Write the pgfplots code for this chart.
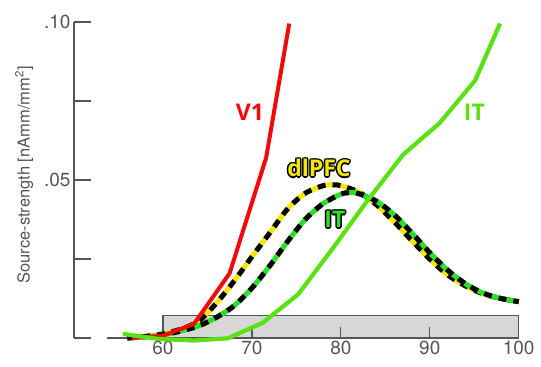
\documentclass[border=0pt]{standalone}
\usepackage{pgfplots}
\pgfplotsset{compat=1.18}
\usepackage{fontspec}
\setmainfont{TeX Gyre Heros}
\newfontfamily\labfont{Open Sans}
\definecolor{axgray}{RGB}{85,85,85}
\definecolor{vred}{RGB}{240,10,10}
\definecolor{itlight}{RGB}{90,225,20}
\definecolor{itgreen}{RGB}{40,225,40}
\definecolor{pfcyel}{RGB}{245,230,0}
\definecolor{boxgray}{RGB}{215,215,215}
\newcommand{\outlined}[5]{%
\node[text=black,font=#5] at (axis cs:#1,#2) [xshift=1.5bp]{#4};
\node[text=black,font=#5] at (axis cs:#1,#2) [xshift=-1.5bp]{#4};
\node[text=black,font=#5] at (axis cs:#1,#2) [yshift=1.5bp]{#4};
\node[text=black,font=#5] at (axis cs:#1,#2) [yshift=-1.5bp]{#4};
\node[text=black,font=#5] at (axis cs:#1,#2) [xshift=1.05bp,yshift=1.05bp]{#4};
\node[text=black,font=#5] at (axis cs:#1,#2) [xshift=1.05bp,yshift=-1.05bp]{#4};
\node[text=black,font=#5] at (axis cs:#1,#2) [xshift=-1.05bp,yshift=1.05bp]{#4};
\node[text=black,font=#5] at (axis cs:#1,#2) [xshift=-1.05bp,yshift=-1.05bp]{#4};
\node[text=#3,font=#5] at (axis cs:#1,#2) {#4};
}
\pgfplotstableread{
x y
56 0.000
58 0.0005
60 0.0013
62 0.0028
64 0.0053
66 0.0110
68 0.0180
70 0.0257
72 0.0332
74 0.0408
76 0.0458
78 0.0482
79 0.0485
80 0.0482
82 0.0462
84 0.0422
86 0.0368
88 0.0308
90 0.0250
92 0.0200
94 0.0165
96 0.0140
98 0.0125
100 0.0115
}\pfctab
\pgfplotstableread{
x y
56 0.000
58 0.0004
60 0.0010
62 0.0022
64 0.0038
66 0.0065
68 0.0102
70 0.0158
72 0.0228
74 0.0305
76 0.0375
78 0.0425
80 0.0455
81 0.0460
82 0.0457
84 0.0433
86 0.0390
88 0.0332
90 0.0270
92 0.0215
94 0.0172
96 0.0142
98 0.0125
100 0.0115
}\ittab
\begin{document}
\begin{tikzpicture}
\path[use as bounding box] (-74bp,-29bp) rectangle (467bp,338bp);
\begin{axis}[
  at={(0,0)}, anchor=south west,
  scale only axis, width=444.7bp, height=316bp,
  xmin=50, xmax=100, ymin=0, ymax=0.1,
  clip=false,
  axis line style={draw=none},
  xtick={60,70,80,90,100}, xticklabels={60,70,80,90,100},
  ytick={0,0.025,0.05,0.075,0.1}, yticklabels={,,.05,,.10},
  xtick pos=bottom, ytick pos=left,
  tick align=inside,
  major tick length=17bp,
  ytick style={draw=axgray, line width=1.5bp},
  xtick style={draw=none},
  ticklabel style={font=\fontsize{19bp}{19bp}\selectfont, text=axgray},
  every axis y label/.style={at={(axis description cs:-0.112,0.516)}, rotate=90, anchor=center},
  ylabel={Source-strength [nAmm/mm\textsuperscript{2}]},
  ylabel style={font=\fontsize{16.5bp}{16.5bp}\selectfont, text=axgray},
]
\draw[fill=boxgray, draw=axgray, line width=1.2bp] (axis cs:60,0) rectangle (axis cs:100,0.007);
\draw[axgray, line width=1.5bp] (axis cs:50,0) -- (axis cs:50,0.1);
\draw[axgray, line width=1.5bp] (axis cs:53.7,0) -- (axis cs:100,0);
\draw[axgray, line width=1.3bp] (axis cs:70,0) -- (axis cs:70,0.0035);
\draw[axgray, line width=1.3bp] (axis cs:80,0) -- (axis cs:80,0.0035);
\draw[axgray, line width=1.3bp] (axis cs:90,0) -- (axis cs:90,0.0035);

% dlPFC
\addplot[pfcyel, line width=5bp, smooth, line join=round] table {\pfctab};
\addplot[black, line width=5bp, smooth, dash pattern=on 8bp off 7bp] table {\pfctab};
% IT (dashed)
\addplot[itgreen, line width=5bp, smooth, line join=round] table {\ittab};
\addplot[black, line width=5bp, smooth, dash pattern=on 8bp off 7bp] table {\ittab};
% V1
\addplot[vred, line width=4bp, line join=round] coordinates {
(56.5,0.0)(60,0.0007)(63.5,0.0045)(67.5,0.0205)(71.6,0.057)(74.2,0.0995)};
% IT (solid)
\addplot[itlight, line width=4.2bp, line join=round] coordinates {
(55.5,0.0013)(59.5,-0.0003)(63.5,-0.0008)(67.3,-0.0001)(71.2,0.0048)(75.2,0.0138)
(79.1,0.0284)(83.0,0.0435)(87.0,0.058)(91.1,0.068)(95.1,0.0815)(97.9,0.0995)};

\node[text=vred, font=\labfont\bfseries\fontsize{23bp}{23bp}\selectfont] at (axis cs:69.78,0.0715) {V1};
\node[text=itlight, font=\labfont\bfseries\fontsize{23bp}{23bp}\selectfont] at (axis cs:95.02,0.0715) {IT};
\outlined{77.54}{0.0538}{pfcyel}{dlPFC}{\labfont\bfseries\fontsize{23bp}{23bp}\selectfont}
\outlined{79.34}{0.0375}{itgreen}{IT}{\labfont\bfseries\fontsize{23bp}{23bp}\selectfont}
\end{axis}
\end{tikzpicture}
\end{document}
